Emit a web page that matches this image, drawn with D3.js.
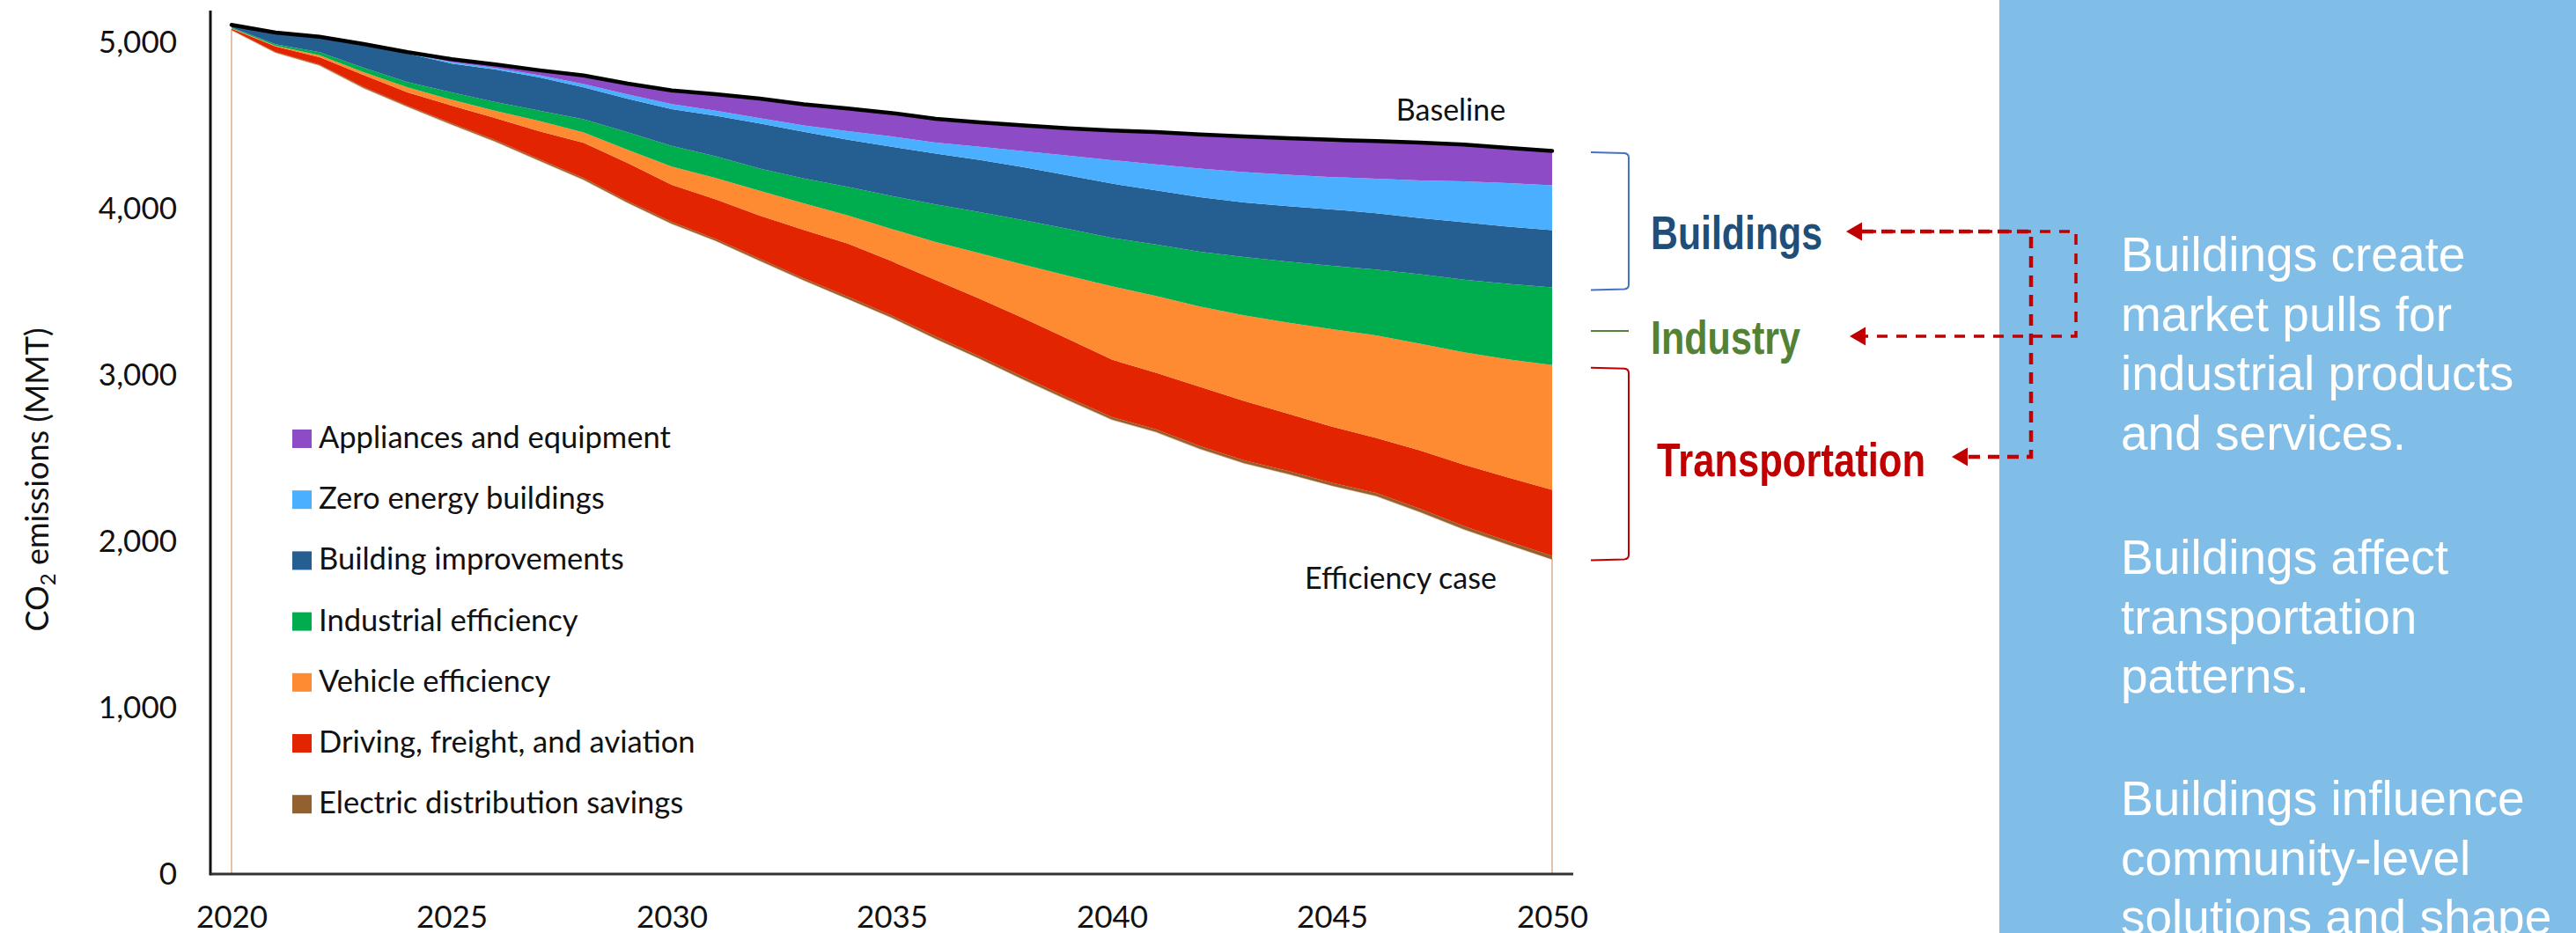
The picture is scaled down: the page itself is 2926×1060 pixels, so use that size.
<!DOCTYPE html>
<html>
<head>
<meta charset="utf-8">
<script src="https://cdn.jsdelivr.net/npm/d3@7"></script>
<style>
  body { margin: 0; background: #fff; }
  svg { display: block; }
  .axis text { font-family: Lato, sans-serif; font-size: 35px; fill: #111; }
</style>
</head>
<body>
<svg id="chart" width="2926" height="1060"></svg>
<script>
// values, MMT CO2 per year
const years = [2020, 2021, 2022, 2023, 2024, 2025, 2026, 2027, 2028, 2029, 2030,
    2031, 2032, 2033, 2034, 2035, 2036, 2037, 2038, 2039, 2040,
    2041, 2042, 2043, 2044, 2045, 2046, 2047, 2048, 2049, 2050]
const baseline = [5104, 5058, 5033, 4989, 4940, 4898, 4866, 4831, 4800, 4751, 4710,
    4688, 4661, 4627, 4601, 4574, 4539, 4518, 4499, 4483, 4469,
    4460, 4446, 4434, 4423, 4413, 4406, 4397, 4384, 4365, 4346]
const appliances = [0, 0, 0, 2, 4, 18, 21, 30, 52, 65, 82,
    100, 118, 127, 136, 141, 143, 147, 154, 164, 178,
    195, 205, 215, 220, 224, 226, 228, 220, 212, 206]
const zeroEnergy = [0, 0, 0, 1, 5, 9, 10, 13, 20, 27, 30,
    30, 32, 39, 52, 62, 66, 79, 97, 120, 141,
    155, 172, 182, 189, 194, 208, 226, 247, 262, 270]
const buildingImprovements = [16, 70, 93, 140, 171, 173, 195, 200, 192, 200, 222,
    243, 270, 280, 282, 296, 305, 314, 318, 321, 326,
    326, 328, 328, 333, 339, 339, 337, 344, 344, 344]
const industrial = [4, 9, 18, 26, 32, 44, 53, 62, 79, 106, 124,
    131, 134, 150, 173, 198, 226, 247, 268, 282, 291,
    309, 330, 351, 367, 381, 395, 418, 437, 453, 467]
const vehicle = [3, 5, 12, 18, 30, 35, 44, 62, 62, 79, 110,
    129, 150, 159, 169, 194, 229, 273, 323, 379, 441,
    462, 483, 515, 547, 586, 617, 642, 676, 711, 750]
const driving = [6, 32, 44, 71, 79, 106, 132, 168, 212, 229, 222,
    238, 259, 291, 319, 326, 339, 347, 353, 353, 345,
    340, 356, 356, 344, 337, 330, 351, 369, 383, 397]
const electric = [1, 3, 4, 5, 6, 7, 8, 8, 9, 9, 10,
    10, 11, 11, 12, 12, 13, 13, 14, 14, 15,
    15, 16, 16, 17, 17, 18, 18, 19, 19, 20]

const seriesNames = ["Appliances and equipment", "Zero energy buildings", "Building improvements",
    "Industrial efficiency", "Vehicle efficiency", "Driving, freight, and aviation", "Electric distribution savings"]
const seriesValues = [appliances, zeroEnergy, buildingImprovements, industrial, vehicle, driving, electric]
const seriesColors = ["#8e4bc6", "#4aaffe", "#255e91", "#00ad4e", "#fe8b32", "#e22500", "#93612f"]

const yTicks = [0, 1000, 2000, 3000, 4000, 5000]
const xTicks = [2020, 2025, 2030, 2035, 2040, 2045, 2050]

const panelText = [
    ["Buildings create", "market pulls for", "industrial products", "and services."],
    ["Buildings affect", "transportation", "patterns."],
    ["Buildings influence", "community-level", "solutions and shape"]
]

// table for d3.stack, bottom layer first
const keys = ["efficiency"].concat(seriesNames.slice().reverse())
const table = years.map((year, i) => {
    const row = { year: year }
    let saved = 0
    seriesNames.forEach((name, s) => {
        row[name] = seriesValues[s][i]
        saved += seriesValues[s][i]
    })
    row.efficiency = baseline[i] - saved
    return row
})

const svg = d3.select("#chart")

// side panel goes under the connectors
svg.append("rect")
    .attr("x", 2271).attr("y", 0)
    .attr("width", 2926 - 2271).attr("height", 1060)
    .attr("fill", "#80bde7")

const x = d3.scaleLinear().domain([2020, 2050]).range([263, 1763])
const y = d3.scaleLinear().domain([0, 5190]).range([993, 12])

const stack = d3.stack().keys(keys)
const layers = stack(table)

const area = d3.area()
    .x(d => x(d.data.year))
    .y0(d => y(d[0]))
    .y1(d => y(d[1]))

const colorOf = name => name === "efficiency" ? "#fff" : seriesColors[seriesNames.indexOf(name)]

svg.append("g")
    .selectAll("path")
    .data(layers)
    .enter()
    .append("path")
    .attr("d", area)
    .attr("fill", d => colorOf(d.key))
    .attr("stroke", d => d.key === "efficiency" ? "#dcae8c" : "none")
    .attr("stroke-width", 1.5)

const line = d3.line()
    .x((d, i) => x(years[i]))
    .y(d => y(d))

svg.append("path")
    .attr("d", line(baseline))
    .attr("fill", "none")
    .attr("stroke", "#000")
    .attr("stroke-width", 4.5)
    .attr("stroke-linecap", "round")

// axes
const yAxis = d3.axisLeft(y).tickValues(yTicks).tickSize(0).tickPadding(38).tickFormat(d3.format(","))
const xAxis = d3.axisBottom(x).tickValues(xTicks).tickSize(0).tickPadding(36).tickFormat(d3.format("d"))

svg.append("g")
    .attr("class", "axis")
    .attr("transform", "translate(239,0)")
    .call(yAxis)
    .call(g => g.select(".domain").remove())

svg.append("g")
    .attr("class", "axis")
    .attr("transform", `translate(0,${y(0)})`)
    .call(xAxis)
    .call(g => g.select(".domain").remove())

svg.append("line")
    .attr("x1", 239).attr("x2", 239)
    .attr("y1", y(0) + 1.5).attr("y2", y.range()[1])
    .attr("stroke", "#111").attr("stroke-width", 3)

svg.append("line")
    .attr("x1", 239).attr("x2", x(2050) + 24)
    .attr("y1", y(0)).attr("y2", y(0))
    .attr("stroke", "#333").attr("stroke-width", 3)

const title = svg.append("text")
    .attr("transform", "translate(55,545) rotate(-90)")
    .attr("text-anchor", "middle")
    .style("font-family", "Lato, sans-serif")
    .style("font-size", "36px")
    .attr("fill", "#111")
title.append("tspan").text("CO")
title.append("tspan").text("2").style("font-size", "24px").attr("dy", 8)
title.append("tspan").text(" emissions (MMT)").attr("dy", -8)

svg.append("text")
    .attr("x", 1648).attr("y", 137)
    .attr("text-anchor", "middle")
    .style("font-family", "Lato, sans-serif").style("font-size", "34px")
    .attr("fill", "#111")
    .text("Baseline")

svg.append("text")
    .attr("x", 1591).attr("y", 669)
    .attr("text-anchor", "middle")
    .style("font-family", "Lato, sans-serif").style("font-size", "34px")
    .attr("fill", "#111")
    .text("Efficiency case")

// legend
const legend = svg.append("g").attr("transform", "translate(332,488)")
const item = legend.selectAll("g")
    .data(seriesNames)
    .enter()
    .append("g")
    .attr("transform", (d, i) => `translate(0,${i * 69.2})`)
item.append("rect")
    .attr("width", 22).attr("height", 21)
    .attr("fill", (d, i) => seriesColors[i])
item.append("text")
    .attr("x", 30).attr("y", 21)
    .style("font-family", "Lato, sans-serif").style("font-size", "34.5px")
    .attr("fill", "#111")
    .text(d => d)

// sector brackets at 2050
const last = years.length - 1
const buildingsLow = baseline[last] - appliances[last] - zeroEnergy[last] - buildingImprovements[last]
const industryLow = buildingsLow - industrial[last]
const effLow = table[last].efficiency

function bracket(top, bottom) {
    return `M1807,${top} L1845,${top + 1} Q1850,${top + 1.5} 1850,${top + 6} L1850,${bottom - 6} Q1850,${bottom - 1.5} 1845,${bottom - 1} L1807,${bottom}`
}

svg.append("path")
    .attr("d", bracket(y(baseline[last]) + 1.5, y(buildingsLow) + 3))
    .attr("fill", "none").attr("stroke", "#4472c4").attr("stroke-width", 2)

svg.append("line")
    .attr("x1", 1807).attr("x2", 1850)
    .attr("y1", 376).attr("y2", 376)
    .attr("stroke", "#548235").attr("stroke-width", 2)

svg.append("path")
    .attr("d", bracket(y(industryLow) + 3, y(effLow) + 1))
    .attr("fill", "none").attr("stroke", "#c00000").attr("stroke-width", 2)

const sectorLabels = [
    { text: "Buildings", x: 1875, y: 283, width: 195, color: "#1f4e79" },
    { text: "Industry", x: 1875, y: 402, width: 170, color: "#548235" },
    { text: "Transportation", x: 1882, y: 541, width: 305, color: "#c00000" }
]
svg.append("g")
    .selectAll("text")
    .data(sectorLabels)
    .enter()
    .append("text")
    .attr("x", d => d.x).attr("y", d => d.y)
    .attr("textLength", d => d.width)
    .attr("lengthAdjust", "spacingAndGlyphs")
    .style("font-family", "'Liberation Sans', Arial, sans-serif")
    .style("font-size", "53px").style("font-weight", "bold")
    .attr("fill", d => d.color)
    .text(d => d.text)

// dashed connectors
const defs = svg.append("defs")
defs.append("marker")
    .attr("id", "head")
    .attr("markerUnits", "userSpaceOnUse")
    .attr("viewBox", "0 -11 19 22")
    .attr("refX", 0).attr("refY", 0)
    .attr("markerWidth", 19).attr("markerHeight", 22)
    .attr("orient", "auto-start-reverse")
    .append("path")
    .attr("d", "M0,-10.5L18,0L0,10.5Z")
    .attr("fill", "#c00000")

svg.append("path")
    .attr("d", "M2119,263 H2358 V382 H2119")
    .attr("fill", "none").attr("stroke", "#c00000").attr("stroke-width", 3.5)
    .attr("stroke-dasharray", "12 10")
    .attr("marker-end", "url(#head)")

svg.append("path")
    .attr("d", "M2115,263 H2307 V519 H2235")
    .attr("fill", "none").attr("stroke", "#c00000").attr("stroke-width", 4.5)
    .attr("stroke-dasharray", "13 9")
    .attr("marker-start", "url(#head)")
    .attr("marker-end", "url(#head)")

const paraTop = [308, 652, 926]
const panel = svg.append("g")
    .style("font-family", "'Liberation Sans', Arial, sans-serif")
    .style("font-size", "55px")
    .attr("fill", "#fff")
panelText.forEach((lines, p) => {
    lines.forEach((t, i) => {
        panel.append("text")
            .attr("x", 2409)
            .attr("y", paraTop[p] + i * 67.6)
            .text(t)
    })
})
</script>
</body>
</html>
